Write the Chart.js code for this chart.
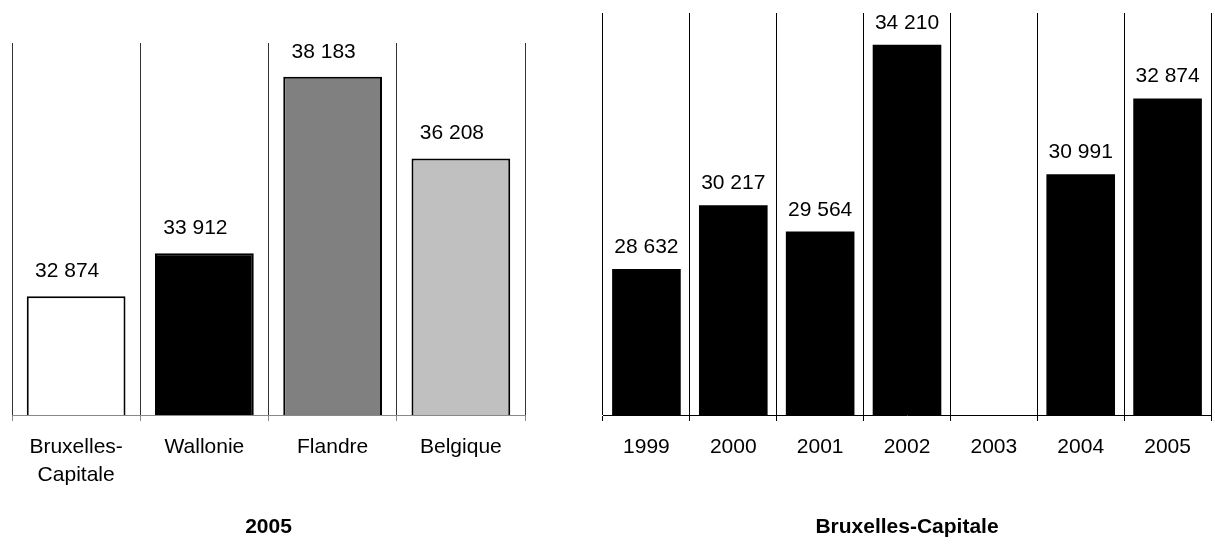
<!DOCTYPE html>
<html>
<head>
<meta charset="utf-8">
<script src="https://cdn.jsdelivr.net/npm/chart.js@4"></script>
<style>
  html, body { margin: 0; padding: 0; background: #fff; }
  body { width: 1215px; height: 554px; position: relative; overflow: hidden; }
  canvas { position: absolute; top: 0; }
  #regions { left: 0; }
  #brussels { left: 580px; }
</style>
</head>
<body>
<canvas id="regions" width="560" height="554"></canvas>
<canvas id="brussels" width="635" height="554"></canvas>
<script>
// Values per region, 2005
const regionLabels = [['Bruxelles-', 'Capitale'], 'Wallonie', 'Flandre', 'Belgique'];
const regionValues = [32874, 33912, 38183, 36208];

// Brussels-Capital over time (no figure for 2003)
const yearLabels = ['1999', '2000', '2001', '2002', '2003', '2004', '2005'];
const brusselsValues = [28632, 30217, 29564, 34210, null, 30991, 32874];

const FONT = '"Liberation Sans", Arial, Helvetica, sans-serif';

// thousands separated by a space: 32874 -> "32 874"
function fmt(v) {
  return String(v).replace(/\B(?=(\d{3})+(?!\d))/g, ' ');
}

// writes each bar's value above it
const valueLabels = {
  id: 'valueLabels',
  afterDatasetsDraw(chart, args, opts) {
    const ctx = chart.ctx;
    const meta = chart.getDatasetMeta(0);
    const data = chart.data.datasets[0].data;
    ctx.save();
    ctx.font = '21px ' + FONT;
    ctx.fillStyle = '#000';
    ctx.textAlign = 'center';
    ctx.textBaseline = 'alphabetic';
    meta.data.forEach((bar, i) => {
      const v = data[i];
      if (v === null || v === undefined) return;
      ctx.fillText(fmt(v), bar.x + (opts.shift || 0), bar.y - (opts.gap || 0));
    });
    ctx.restore();
  }
};

function makeOptions(cfg) {
  return {
    responsive: false,
    animation: false,
    layout: { padding: cfg.padding },
    plugins: {
      legend: { display: false },
      tooltip: { enabled: false },
      title: {
        display: true,
        text: cfg.title,
        position: 'bottom',
        fullSize: false,
        color: '#000',
        padding: 0,
        font: { family: FONT, size: 21, weight: 'bold', lineHeight: 1.2 }
      },
      valueLabels: { shift: cfg.shift, gap: cfg.gap }
    },
    scales: {
      x: {
        offset: true,
        grid: {
          offset: true,
          color: cfg.gridColor,
          tickColor: cfg.axisColor,
          tickLength: 6,
          lineWidth: 1
        },
        border: { display: true, color: cfg.axisColor, width: 1 },
        ticks: {
          color: '#000',
          padding: 13,
          maxRotation: 0,
          autoSkip: false,
          font: { family: FONT, size: 21, lineHeight: 1.3 }
        },
        afterFit(scale) { scale.height = cfg.axisHeight; }
      },
      y: {
        display: false,
        min: cfg.min,
        max: cfg.max
      }
    }
  };
}

new Chart(document.getElementById('regions'), {
  type: 'bar',
  data: {
    labels: regionLabels,
    datasets: [{
      data: regionValues,
      backgroundColor: ['#ffffff', '#000000', '#808080', '#c0c0c0'],
      borderColor: '#000',
      borderWidth: 2,
      barPercentage: 0.77,
      categoryPercentage: 1
    }]
  },
  options: makeOptions({
    title: '2005',
    padding: { left: 12, right: 35, top: 43, bottom: 14 },
    axisHeight: 99.8,
    min: 30000, max: 39000,
    gridColor: '#333', axisColor: '#888',
    shift: -9, gap: 19
  }),
  plugins: [valueLabels]
});

new Chart(document.getElementById('brussels'), {
  type: 'bar',
  data: {
    labels: yearLabels,
    datasets: [{
      data: brusselsValues,
      backgroundColor: '#000',
      borderWidth: 0,
      barPercentage: 0.79,
      categoryPercentage: 1
    }]
  },
  options: makeOptions({
    title: 'Bruxelles-Capitale',
    padding: { left: 23, right: 4, top: 13, bottom: 14 },
    axisHeight: 99.8,
    min: 25000, max: 35000,
    gridColor: '#000', axisColor: '#000',
    shift: 0, gap: 16
  }),
  plugins: [valueLabels]
});
</script>
</body>
</html>
